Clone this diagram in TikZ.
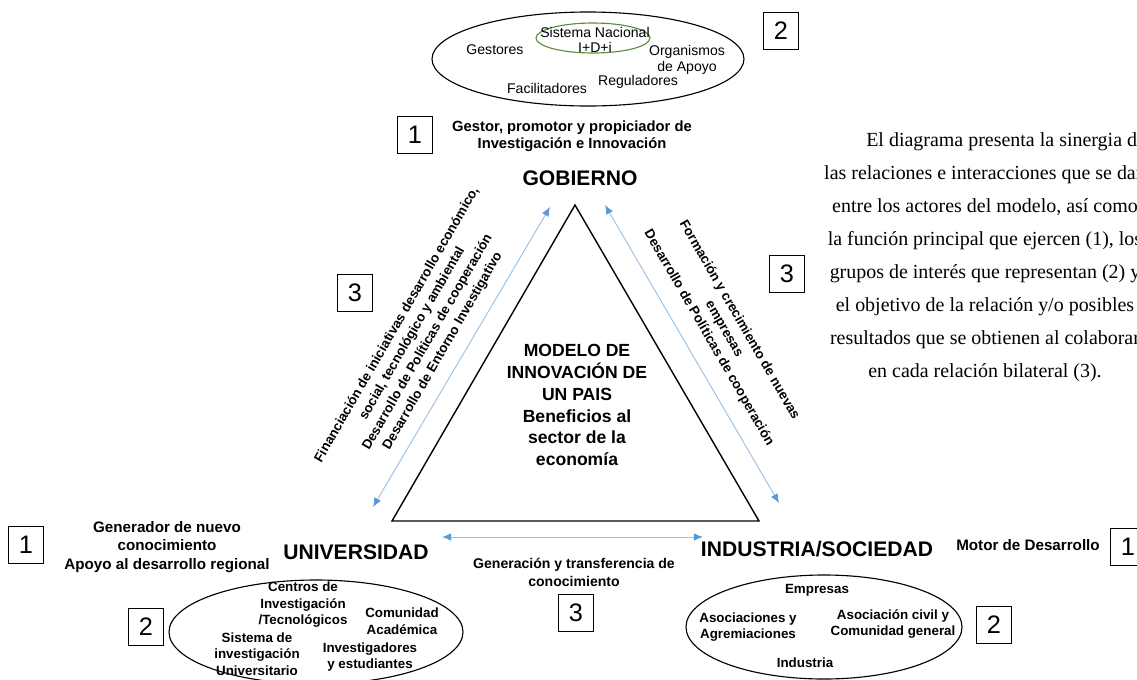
\documentclass[tikz,border=0pt]{standalone}
\usepackage{fontspec}
\setmainfont{Liberation Sans}
\newfontfamily\notefont{Liberation Serif}
\usepackage{xcolor}
\usetikzlibrary{arrows.meta, shapes.geometric, calc}
\definecolor{LinkLine}{HTML}{9DC3E6}
\definecolor{LinkTip}{HTML}{5B9BD5}
\definecolor{SystemGreen}{HTML}{5E8C3A}
\definecolor{TextBlack}{HTML}{000000}
\tikzset{
    % Node styles
    numbox/.style={
        rectangle,
        draw=TextBlack,
        line width=0.7pt,
        minimum width=24.5pt,
        minimum height=26pt,
        inner sep=0pt,
        font=\fontsize{18}{20}\selectfont
    },
    actorlabel/.style={
        inner sep=0pt,
        font=\fontsize{15}{18}\bfseries\selectfont
    },
    rolelabel/.style={
        align=center,
        inner sep=0pt,
        font=\fontsize{10.8}{13.2}\bfseries\selectfont
    },
    grouptext/.style={
        align=center,
        inner sep=0pt,
        font=\fontsize{10}{11.2}\selectfont
    },
    groupbold/.style={
        align=center,
        inner sep=0pt,
        font=\fontsize{9.5}{11.7}\bfseries\selectfont
    },
    relationtext/.style={
        align=center,
        inner sep=0pt,
        font=\fontsize{9.5}{12.5}\bfseries\selectfont
    },
    modeltext/.style={
        align=center,
        inner sep=0pt,
        font=\fontsize{12.5}{15.6}\bfseries\selectfont
    },
    notetext/.style={
        align=center,
        inner sep=0pt,
        font=\notefont\fontsize{14.2}{23.5}\selectfont
    },
    % Line styles
    groupline/.style={
        draw=TextBlack,
        line width=0.8pt
    },
    linkarrow/.style={
        {Latex[length=6.5pt,width=5.5pt,color=LinkTip]}-{Latex[length=6.5pt,width=5.5pt,color=LinkTip]},
        draw=LinkLine,
        line width=0.7pt
    }
}

\begin{document}
\begin{tikzpicture}[x=0.025cm, y=-0.025cm]
    \useasboundingbox (0,0) rectangle (1137,679);

    % Triangle
    \coordinate (apex) at (575,205);
    \coordinate (leftcorner) at (392,521);
    \coordinate (rightcorner) at (759,521);
    \draw[line width=1pt, line join=miter] (apex) -- (leftcorner) -- (rightcorner) -- cycle;

    \node[modeltext] (modelo) at (577,405) {MODELO DE\\INNOVACIÓN DE\\UN PAIS\\Beneficios al\\sector de la\\economía};

    % Actors
    \node[actorlabel] (gobierno) at (580,178) {GOBIERNO};
    \node[actorlabel] (universidad) at (356,552) {UNIVERSIDAD};
    \node[actorlabel] (industria) at (817,549) {INDUSTRIA/SOCIEDAD};

    % Relation arrows
    \coordinate (gu top) at (550,207);
    \coordinate (gu bottom) at (373,507);
    \coordinate (gi top) at (605,205);
    \coordinate (gi bottom) at (779,503);
    \coordinate (ui left) at (442,537);
    \coordinate (ui right) at (703,537);
    \draw[linkarrow] (gu bottom) -- (gu top);
    \draw[linkarrow] (gi top) -- (gi bottom);
    \draw[linkarrow] (ui left) -- (ui right);

    % Main functions (1)
    \node[numbox] (n1gov) at (415,135) {1};
    \node[rolelabel, font=\fontsize{10.5}{12.2}\bfseries\selectfont] (rolegov) at (572,136) {Gestor, promotor y propiciador de\\Investigación e Innovación};
    \node[numbox] (n1uni) at (26,545) {1};
    \node[rolelabel] (roleuni) at (167,547) {Generador de nuevo\\conocimiento\\Apoyo al desarrollo regional};
    \node[numbox] (n1ind) at (1128,547) {1};
    \node[rolelabel] (roleind) at (1028,545) {Motor de Desarrollo};

    % Interest groups (2) - government
    \draw[groupline] (588,59) ellipse [x radius=156, y radius=47];
    \draw[draw=SystemGreen, line width=0.8pt] (593,38) ellipse [x radius=57, y radius=15];
    \node[grouptext] (sni) at (595,40) {Sistema Nacional\\I+D+i};
    \node[grouptext] (gestores) at (495,50) {Gestores};
    \node[grouptext] (organismos) at (687,60) {Organismos\\de Apoyo};
    \node[grouptext] (reguladores) at (638,82) {Reguladores};
    \node[grouptext] (facilitadores) at (547,88) {Facilitadores};
    \node[numbox] (n2gov) at (781,31) {2};

    % Interest groups (2) - university
    \draw[groupline] (316,632) ellipse [x radius=147, y radius=52];
    \node[groupbold] (centros) at (303,605) {Centros de\\Investigación\\/Tecnológicos};
    \node[groupbold] (comunidad) at (402,621) {Comunidad\\Académica};
    \node[groupbold] (sistema) at (257,654) {Sistema de\\investigación\\Universitario};
    \node[groupbold] (investigadores) at (370,657) {Investigadores\\y estudiantes};
    \node[numbox] (n2uni) at (146,627) {2};

    % Interest groups (2) - industry
    \draw[groupline] (824,627) ellipse [x radius=138, y radius=52];
    \node[groupbold] (empresas) at (817,590) {Empresas};
    \node[groupbold] (asociaciones) at (748,627) {Asociaciones y\\Agremiaciones};
    \node[groupbold] (civil) at (893,624) {Asociación civil y\\Comunidad general};
    \node[groupbold] (industrias) at (805,663) {Industria};
    \node[numbox] (n2ind) at (994,625) {2};

    % Relation outcomes (3)
    \node[relationtext, rotate=60] (relgu) at (420,338) {Financiación de iniciativas desarrollo económico,\\social, tecnológico y ambiental\\Desarrollo de Políticas de cooperación\\Desarrollo de Entorno Investigativo};
    \node[relationtext, rotate=-60] (relgi) at (724,329) {Formación y crecimiento de nuevas\\empresas\\Desarrollo de Políticas de cooperación};
    \node[relationtext, font=\fontsize{10}{12.8}\bfseries\selectfont] (relui) at (574,572) {Generación y transferencia de\\conocimiento};
    \node[numbox] (n3gu) at (355,293) {3};
    \node[numbox] (n3gi) at (787,274) {3};
    \node[numbox] (n3ui) at (576,613) {3};

    % Note
    \node[notetext] (nota) at (985,257) {\hspace*{30pt}El diagrama presenta la sinergia de\\las relaciones e interacciones que se dan\\entre los actores del modelo, así como\\la función principal que ejercen (1), los\\grupos de interés que representan (2) y\\el objetivo de la relación y/o posibles\\resultados que se obtienen al colaborar\\en cada relación bilateral (3).};
\end{tikzpicture}
\end{document}
